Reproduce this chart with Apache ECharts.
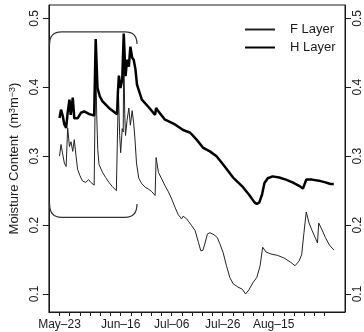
<!DOCTYPE html>
<html>
<head>
<meta charset="utf-8">
<script src="https://cdn.jsdelivr.net/npm/echarts@6/dist/echarts.min.js"></script>
<style>html,body{margin:0;padding:0;background:#fff}#c{width:364px;height:332px}</style>
</head>
<body>
<div id="c"></div>
<script>
// Days since May-23
const xTickDays = [0,4,8,12,16,20,24,28,32,36,40,44,48,52,56,60,64,68,72,76,80,84,88,92,96,100,104];
const xLabelDays = [0, 24, 44, 64, 84];
const xLabels = ['May\u201323', 'Jun\u201316', 'Jul\u201306', 'Jul\u201326', 'Aug\u201315'];
const yTicks = [0.1, 0.2, 0.3, 0.4, 0.5];

const fDays = [0,0.6,1.3,1.9,2.6,3.2,3.9,4.5,5.2,5.8,6.5,7.1,8.0,9.0,10.3,11.4,12.3,13.6,14.0,14.2,14.6,15.0,15.5,16.8,18.1,19.4,20.7,22.3,22.7,23.1,23.6,24.0,24.6,25.0,25.2,25.6,25.9,26.5,27.2,27.8,28.5,29.1,29.6,30.2,31.1,32.3,33.6,35.0,36.2,37.5,37.8,37.9,38.8,40.1,41.4,42.7,44.0,45.3,46.6,47.9,48.5,49.9,51.9,53.2,54.5,55.4,56.2,57.1,58.0,59.0,60.6,61.9,62.9,64.2,65.5,66.8,68.1,70.0,71.7,73.0,74.3,75.8,77.4,78.7,79.7,81.0,83.0,85.6,88.2,90.7,92.4,94.0,95.0,95.9,96.8,97.9,99.1,100.4,101.2,101.7,103.0,104.3,105.9,107.6];
const fVals = [0.300,0.317,0.302,0.290,0.285,0.341,0.314,0.321,0.307,0.324,0.300,0.281,0.272,0.264,0.262,0.266,0.262,0.258,0.259,0.445,0.360,0.310,0.288,0.277,0.269,0.262,0.256,0.250,0.252,0.395,0.330,0.305,0.340,0.335,0.460,0.360,0.330,0.352,0.370,0.345,0.366,0.348,0.325,0.290,0.268,0.260,0.255,0.252,0.2485,0.243,0.244,0.298,0.2765,0.267,0.257,0.2485,0.238,0.226,0.215,0.209,0.213,0.209,0.199,0.192,0.175,0.163,0.163,0.174,0.187,0.189,0.186,0.182,0.173,0.160,0.141,0.124,0.115,0.110,0.107,0.100,0.106,0.116,0.124,0.141,0.168,0.161,0.158,0.156,0.152,0.146,0.141,0.148,0.157,0.189,0.219,0.203,0.192,0.181,0.174,0.203,0.193,0.182,0.171,0.164];

const hDays = [0,0.6,1.3,1.9,2.6,3.2,3.9,4.4,5.2,5.8,7.1,8.4,9.7,11.7,13.6,14.0,14.2,14.9,15.8,16.8,19.4,22.6,22.9,23.3,23.9,24.6,25.2,25.9,26.5,27.2,27.8,28.5,29.1,29.8,30.4,32.3,35.0,37.5,37.9,38.8,41.4,45.3,48.5,51.3,53.8,56.4,59.0,61.6,64.2,68.1,72.0,74.6,76.5,77.4,78.4,79.5,80.4,81.7,83.6,86.2,88.8,91.4,94.0,95.5,96.8,99.1,101.7,104.3,106.3,107.6];
const hVals = [0.3555,0.3675,0.358,0.346,0.341,0.363,0.382,0.360,0.385,0.355,0.355,0.363,0.365,0.361,0.359,0.360,0.470,0.399,0.387,0.380,0.370,0.361,0.392,0.417,0.399,0.411,0.478,0.416,0.440,0.430,0.459,0.443,0.440,0.426,0.404,0.382,0.371,0.360,0.370,0.365,0.353,0.346,0.338,0.334,0.324,0.312,0.307,0.300,0.288,0.269,0.255,0.243,0.233,0.2306,0.233,0.245,0.261,0.268,0.2707,0.269,0.266,0.262,0.257,0.253,0.266,0.266,0.2645,0.262,0.2597,0.2597];

// Bracket annotations: [leftDay, endValue, rightDay, flatValue]
const bracketDays = [-3.88, 30.4];
const bracketTop = [0.4628, 0.4803];
const bracketBottom = [0.2306, 0.2112];

const font = 'Liberation Sans, Arial, Helvetica, sans-serif';
const ink = '#1a1a1a';

const chart = echarts.init(document.getElementById('c'), null, {renderer: 'canvas'});

function yAxisCfg(pos, margin) {
  return {
    type: 'value', position: pos, min: 0.0739, max: 0.5194,
    axisLine: {show: true, onZero: false, lineStyle: {color: ink, width: 1}},
    axisTick: {show: true, inside: false, length: 6, customValues: yTicks, lineStyle: {color: ink}},
    axisLabel: {customValues: yTicks, rotate: 90, margin: margin, color: ink, fontSize: 12, fontFamily: font,
      formatter: v => v.toFixed(1)},
    splitLine: {show: false}
  };
}

const left = yAxisCfg('left', 8);
left.name = 'Moisture Content  (m{s|3}m{s|\u22123})';
left.nameLocation = 'middle';
left.nameGap = 23;
left.nameTextStyle = {color: ink, fontSize: 13, fontFamily: font,
  rich: {s: {fontSize: 9, fontFamily: font, color: ink, verticalAlign: 'top', lineHeight: 9}}};
const right = yAxisCfg('right', 7);

chart.setOption({
  animation: false,
  backgroundColor: '#fff',
  grid: {left: 46, right: 19, top: 5, bottom: 20, show: true, borderColor: ink, borderWidth: 1, backgroundColor: 'transparent'},
  legend: {
    data: ['F Layer', 'H Layer'], orient: 'vertical', left: 239, top: 18,
    itemWidth: 30, itemHeight: 14, itemGap: 5,
    itemStyle: {opacity: 0},
    textStyle: {fontSize: 13, fontFamily: font, color: ink, padding: [0, 0, 0, 10]}
  },
  xAxis: {
    type: 'value', min: -4.16, max: 112.0,
    axisLine: {show: true, onZero: false, lineStyle: {color: ink}},
    axisTick: {show: true, inside: false, length: 4, customValues: xTickDays, lineStyle: {color: ink}},
    axisLabel: {customValues: xLabelDays, margin: 7, color: ink, fontSize: 12, fontFamily: font,
      formatter: v => xLabels[xLabelDays.indexOf(v)] || ''},
    splitLine: {show: false}
  },
  yAxis: [left, right],
  series: [
    {name: 'F Layer', type: 'line', data: fDays.map((d, i) => [d, fVals[i]]), showSymbol: false, symbol: 'none',
      lineStyle: {color: '#222', width: 1}, itemStyle: {color: '#222'}, z: 2},
    {name: 'H Layer', type: 'line', data: hDays.map((d, i) => [d, hVals[i]]), showSymbol: false, symbol: 'none',
      lineStyle: {color: '#000', width: 2.5}, itemStyle: {color: '#000'}, z: 3},
    {name: 'brackets', type: 'custom', silent: true, z: 4,
      data: [[bracketDays[0], bracketTop[0], bracketDays[1], bracketTop[1]],
             [bracketDays[0], bracketBottom[0], bracketDays[1], bracketBottom[1]]],
      encode: {x: [0, 2], y: [1, 3]},
      renderItem: function (params, api) {
        const pL = api.coord([api.value(0), api.value(1)]);
        const pR = api.coord([api.value(2), api.value(1)]);
        const fy = api.coord([api.value(0), api.value(3)])[1];
        const r = 12;
        const path = 'M' + pL[0] + ',' + pL[1] + ' Q' + pL[0] + ',' + fy + ' ' + (pL[0] + r) + ',' + fy +
          ' L' + (pR[0] - r) + ',' + fy + ' Q' + pR[0] + ',' + fy + ' ' + pR[0] + ',' + pR[1];
        return {type: 'path', shape: {pathData: path}, style: {stroke: '#333', lineWidth: 1.2, fill: null}};
      }
    }
  ]
});
</script>
</body>
</html>
